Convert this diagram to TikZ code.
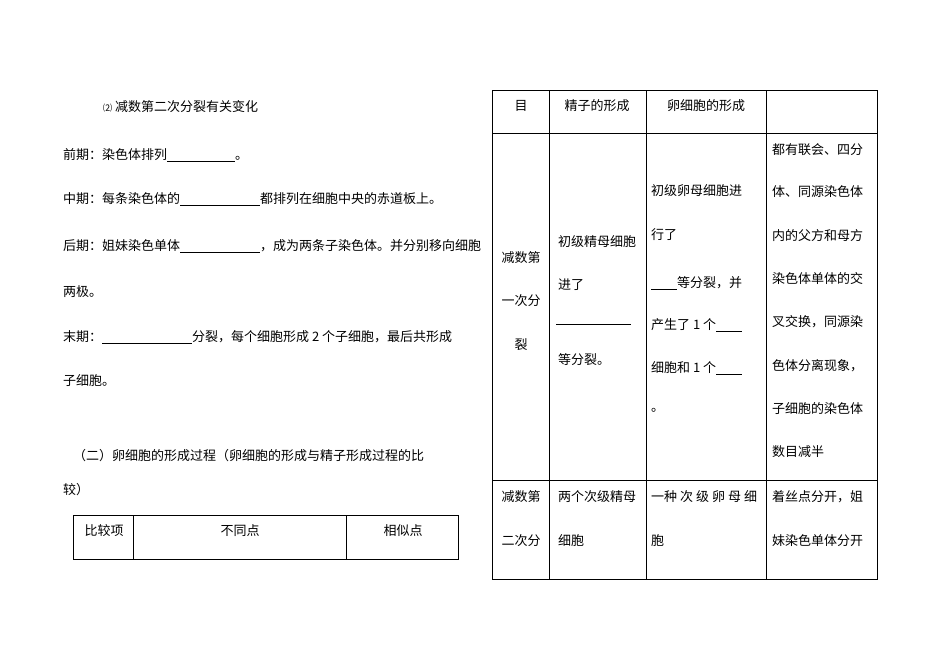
\documentclass[tikz,border=0pt]{standalone}
\usepackage{fontspec}
\newfontfamily\cjk{Noto Sans CJK SC}
\begin{document}
\begin{tikzpicture}[x=1pt,y=-1pt,
  txt/.style={anchor=west,inner sep=0pt,font=\cjk\fontsize{13}{15}\selectfont},
  ctxt/.style={anchor=center,inner sep=0pt,font=\cjk\fontsize{13}{15}\selectfont},
  rule/.style={line width=0.5pt}]
\useasboundingbox (0,0) rectangle (950,670);
\newcommand\tl[4]{\node[txt] (#1) at (#2,#3) {#4};}
\newcommand\ul[1]{\underline{\hspace{#1pt}}}
\tl{h}{103}{107}{{\fontsize{9}{10}\selectfont ⑵}\ 减数第二次分裂有关变化}
\tl{a1}{63}{155}{前期：染色体排列\ul{68}。}
\tl{a2}{63}{199}{中期：每条染色体的\ul{80}都排列在细胞中央的赤道板上。}
\tl{a3}{63}{246}{后期：姐妹染色单体\ul{80}，成为两条子染色体。并分别移向细胞}
\tl{a4}{63}{292}{两极。}
\tl{a5}{63}{337}{末期：\ul{90}分裂，每个细胞形成 2 个子细胞，最后共形成}
\tl{a6}{63}{381}{子细胞。}
\tl{b1}{73}{456}{（二）卵细胞的形成过程（卵细胞的形成与精子形成过程的比}
\tl{b2}{63}{490}{较）}
\draw[rule] (73,515) rectangle (458,559) (133,515)--(133,559) (346,515)--(346,559);
\node[ctxt] (c1) at (104,531) {比较项};
\node[ctxt] (c2) at (240,531) {不同点};
\node[ctxt] (c3) at (403,531) {相似点};
% right table
\draw[rule] (492,90) rectangle (877,579);
\draw[rule] (549,90)--(549,579) (646,90)--(646,579) (766,90)--(766,579);
\draw[rule] (492,133)--(877,133) (492,480)--(877,480);
\node[ctxt] (r1) at (521,106) {目};
\node[ctxt] (r2) at (597,106) {精子的形成};
\node[ctxt] (r3) at (706,106) {卵细胞的形成};
\node[ctxt] (d1) at (521,258) {减数第};
\node[ctxt] (d2) at (521,301) {一次分};
\node[ctxt] (d3) at (521,345) {裂};
\tl{e1}{558}{242}{初级精母细胞}
\tl{e2}{558}{285}{进了}
\tl{e3}{556}{324}{\ul{75}}
\tl{e4}{558}{360}{等分裂。}
\tl{f1}{651}{191}{初级卵母细胞进}
\tl{f2}{651}{235}{行了}
\tl{f3}{651}{283}{\ul{26}等分裂，并}
\tl{f4}{651}{325}{产生了 1 个\ul{26}}
\tl{f5}{651}{368}{细胞和 1 个\ul{26}}
\tl{f6}{651}{410}{。}
\tl{g1}{772}{150}{都有联会、四分}
\tl{g2}{772}{192}{体、同源染色体}
\tl{g3}{772}{236}{内的父方和母方}
\tl{g4}{772}{279}{染色体单体的交}
\tl{g5}{772}{322}{叉交换，同源染}
\tl{g6}{772}{366}{色体分离现象，}
\tl{g7}{772}{409}{子细胞的染色体}
\tl{g8}{772}{452}{数目减半}
\node[ctxt] (h1) at (521,497) {减数第};
\node[ctxt] (h2) at (521,541) {二次分};
\tl{i1}{558}{497}{两个次级精母}
\tl{i2}{558}{541}{细胞}
\node[txt] (j1) at (651,497) {一种\hspace{3pt}次\hspace{3pt}级\hspace{3pt}卵\hspace{3pt}母\hspace{3pt}细};
\tl{j2}{651}{541}{胞}
\tl{k1}{772}{497}{着丝点分开，姐}
\tl{k2}{772}{541}{妹染色单体分开}
\end{tikzpicture}
\end{document}
